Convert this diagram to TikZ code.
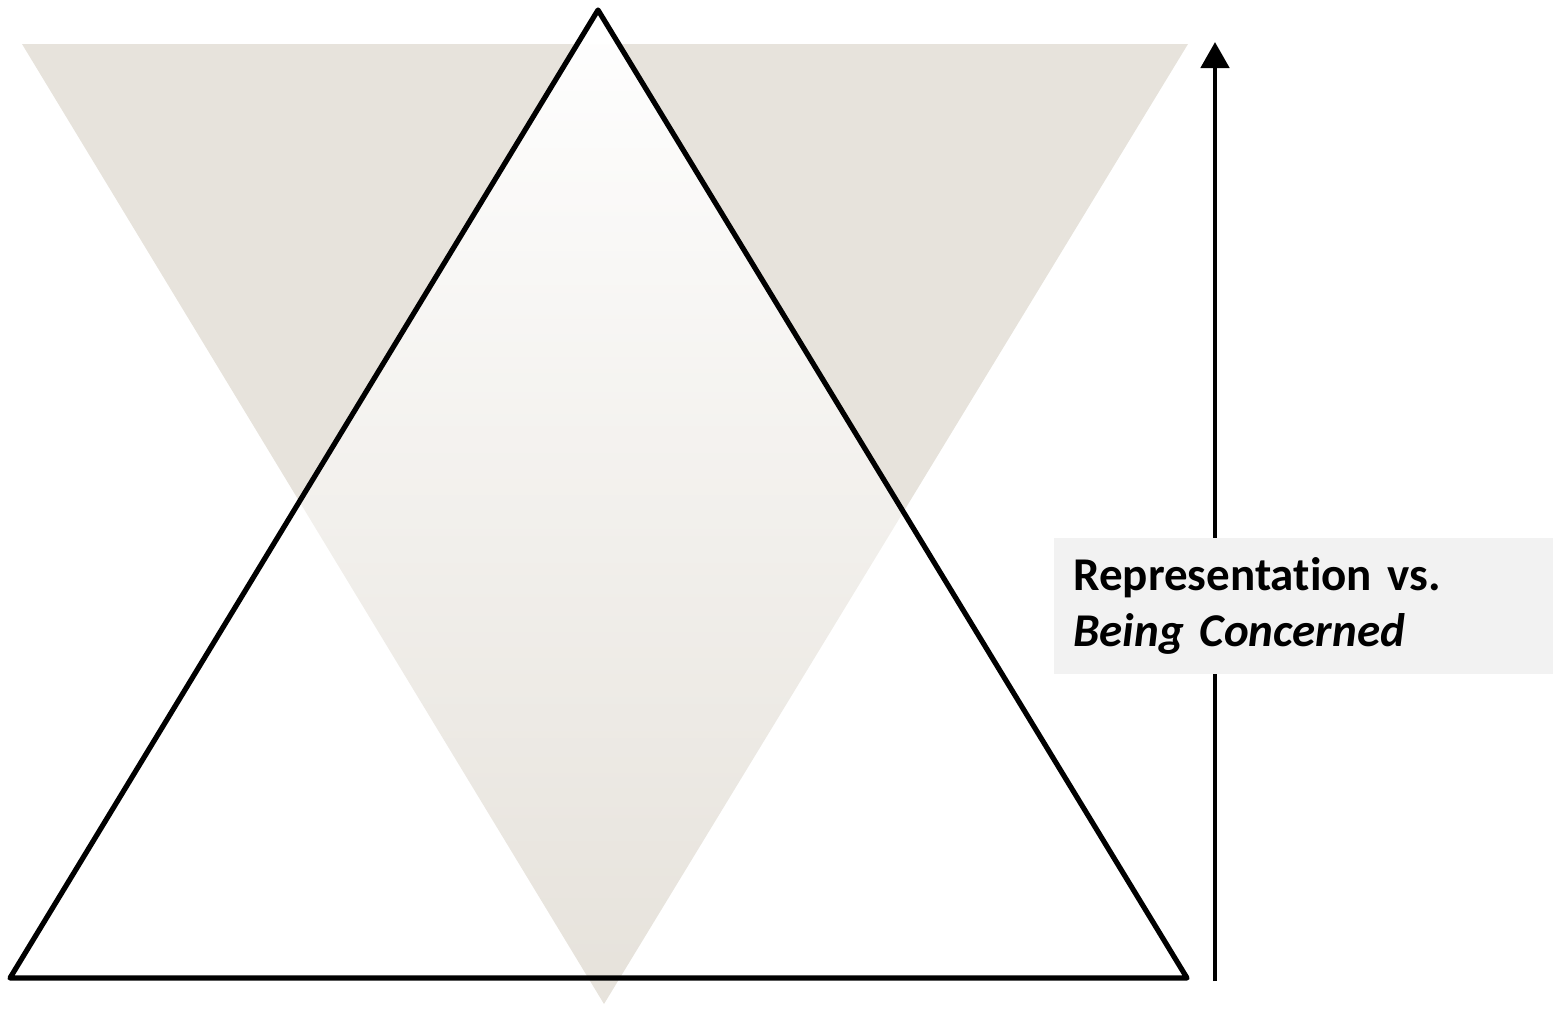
\documentclass[tikz,border=0pt]{standalone}
\usepackage{fontspec}
\setmainfont{Carlito}[Ligatures=NoCommon]
\usetikzlibrary{arrows.meta,fadings}

\definecolor{sand}{HTML}{E7E3DC}
\definecolor{boxgray}{HTML}{F2F2F2}
\tikzfading[name=fadedown, top color=transparent!0, bottom color=transparent!100]

\begin{document}
\begin{tikzpicture}[
  x=0.5pt, y=-0.5pt,
  outline/.style={draw=black, line width=2.6pt, line join=round},
  arr/.style={-{Triangle[length=13pt, width=14pt]}, line width=2.4pt},
  labelbox/.style={fill=boxgray, minimum width=250pt, minimum height=68pt,
                   text width=231pt, align=left, inner xsep=9.5pt,
                   font=\fontsize{23.5}{28}\selectfont\bfseries}
]
  \useasboundingbox (0,0) rectangle (1553,1008);

  % corners of the two triangles
  \coordinate (dnL) at (22,44);
  \coordinate (dnR) at (1188,44);
  \coordinate (dnB) at (604,1004);
  \coordinate (upT) at (598,10);
  \coordinate (upL) at (10,978);
  \coordinate (upR) at (1187,978);

  % inverted triangle
  \fill[sand] (dnL) -- (dnR) -- (dnB) -- cycle;

  % upright triangle, fading to the bottom
  \fill[white, path fading=fadedown] (upT) -- (upL) -- (upR) -- cycle;
  \draw[outline] (upT) -- (upL) -- (upR) -- cycle;

  % axis
  \coordinate (axisB) at (1215,981);
  \coordinate (axisT) at (1215,42);
  \draw[arr] (axisB) -- (axisT);

  \node[labelbox, anchor=north west] (lbl) at (1054,538)
    {Representation vs.\\\textit{Being Concerned}};
\end{tikzpicture}
\end{document}
